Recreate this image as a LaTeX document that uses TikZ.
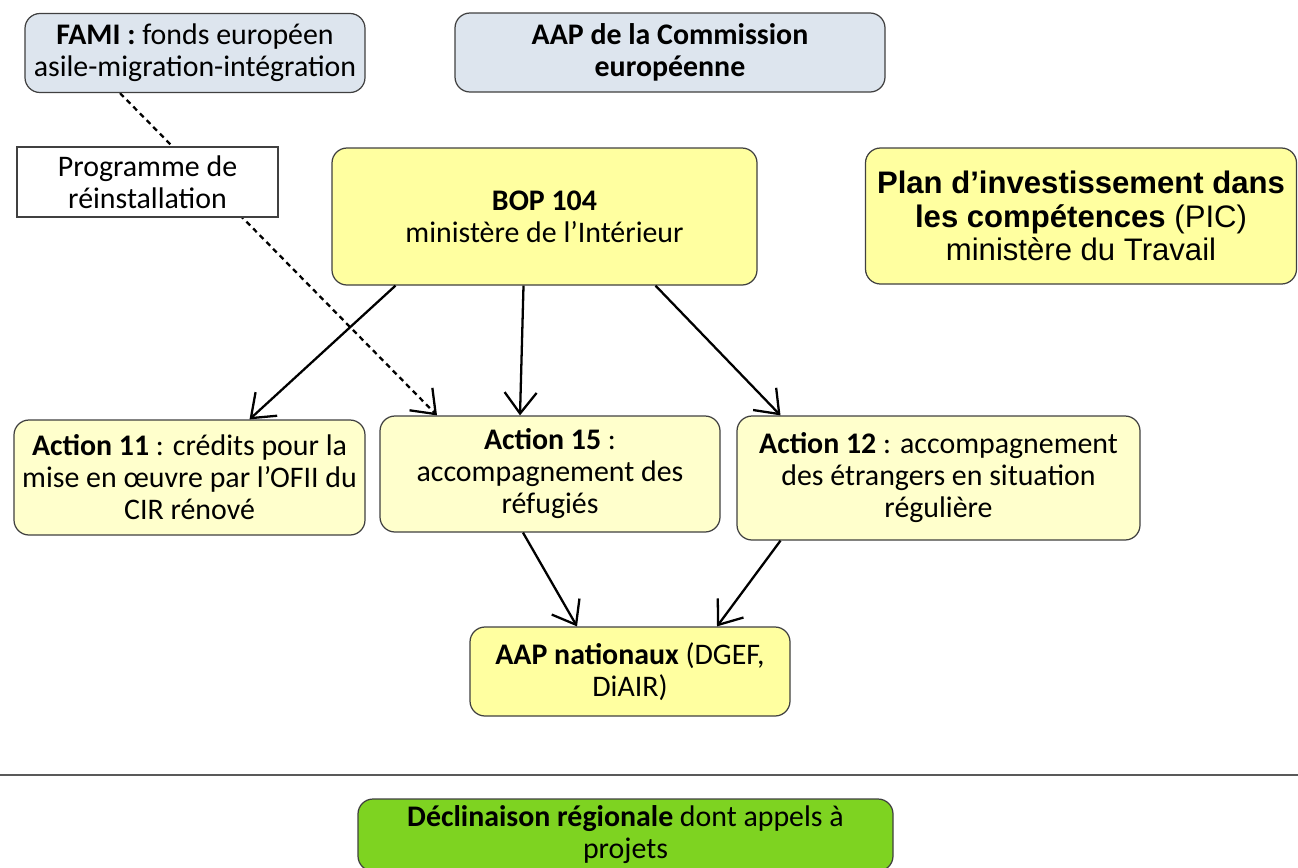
\documentclass[tikz,border=0pt]{standalone}
\usepackage{fontspec}
\setmainfont{Carlito}
\newfontfamily\arialfont{Liberation Sans}
\usetikzlibrary{arrows.meta, positioning, calc, backgrounds}
\definecolor{famiblue}{RGB}{221,229,238}
\definecolor{bopyellow}{RGB}{255,255,160}
\definecolor{actyellow}{RGB}{255,255,204}
\definecolor{regiogreen}{RGB}{126,211,33}

\begin{document}
\begin{tikzpicture}[
  box/.style={draw=black!75, line width=0.7pt, rounded corners=0.3cm, align=center,
  font=\fontsize{17}{18.2}\selectfont, inner sep=1pt},
  arr/.style={-{Straight Barb[length=4.2mm, width=6.4mm]}, line width=1.3pt},
  dashline/.style={arr, dash pattern=on 3pt off 2.4pt}
]
\useasboundingbox (0,0) rectangle (25.96,-17.34);
% top row
\node[box, fill=famiblue, minimum width=6.8cm, minimum height=1.58cm] (fami) at (3.9,-1.06)
  {\textbf{FAMI :} fonds européen\\asile-migration-intégration};
\node[box, fill=famiblue, minimum width=8.6cm, minimum height=1.58cm] (aapce) at (13.4,-1.05)
  {\textbf{AAP de la Commission}\\\textbf{européenne}};
\node[box, rounded corners=0pt, fill=white, minimum width=5.22cm, minimum height=1.4cm] (prog) at (2.95,-3.64)
  {Programme de\\réinstallation};
\node[box, fill=bopyellow, minimum width=8.5cm, minimum height=2.74cm] (bop) at (10.89,-4.33)
  {\textbf{BOP 104}\\ministère de l’Intérieur};
\node[box, fill=bopyellow, minimum width=8.62cm, minimum height=2.72cm,
  font=\arialfont\fontsize{17.7}{19}\selectfont] (pic) at (21.62,-4.32)
  {\textbf{Plan d’investissement dans}\\\textbf{les compétences} (PIC)\\ministère du Travail};
% actions
\node[box, fill=actyellow, minimum width=7.02cm, minimum height=2.3cm] (act11) at (3.79,-9.55)
  {\textbf{Action 11} : crédits pour la\\mise en œuvre par l’OFII du\\CIR rénové};
\node[box, fill=actyellow, minimum width=6.8cm, minimum height=2.32cm] (act15) at (11.0,-9.48)
  {\textbf{Action 15} :\\accompagnement des\\réfugiés};
\node[box, fill=actyellow, minimum width=8.06cm, minimum height=2.48cm] (act12) at (18.77,-9.56)
  {\textbf{Action 12} : accompagnement\\des étrangers en situation\\régulière};
\node[box, fill=bopyellow, minimum width=6.4cm, minimum height=1.78cm] (aapnat) at (12.6,-13.43)
  {\textbf{AAP nationaux} (DGEF,\\DiAIR)};
% separation
\coordinate (sepL) at (0,-15.5);
\coordinate (sepR) at (25.96,-15.5);
\draw[black!65, line width=1.4pt] (sepL) -- (sepR);
\node[box, fill=regiogreen, minimum width=10.7cm, minimum height=1.44cm] (regio) at (12.51,-16.7)
  {\textbf{Déclinaison régionale} dont appels à\\projets};
% arrows
\begin{pgfonlayer}{background}
\draw[dashline] ($(fami.south)+(-1.5,0)$) -- ($(act15.north)+(-2.26,0)$);
\end{pgfonlayer}
\draw[arr] ($(bop.south)+(-2.98,0)$) -- ($(act11.north)+(1.2,0)$);
\draw[arr] ($(bop.south)+(-0.42,0)$) -- ($(act15.north)+(-0.6,0)$);
\draw[arr] ($(bop.south)+(2.22,0)$) -- ($(act12.north)+(-3.16,0)$);
\draw[arr] ($(act15.south)+(-0.54,0)$) -- ($(aapnat.north)+(-1.06,0)$);
\draw[arr] ($(act12.south)+(-3.16,0)$) -- ($(aapnat.north)+(1.74,0)$);
\end{tikzpicture}
\end{document}
